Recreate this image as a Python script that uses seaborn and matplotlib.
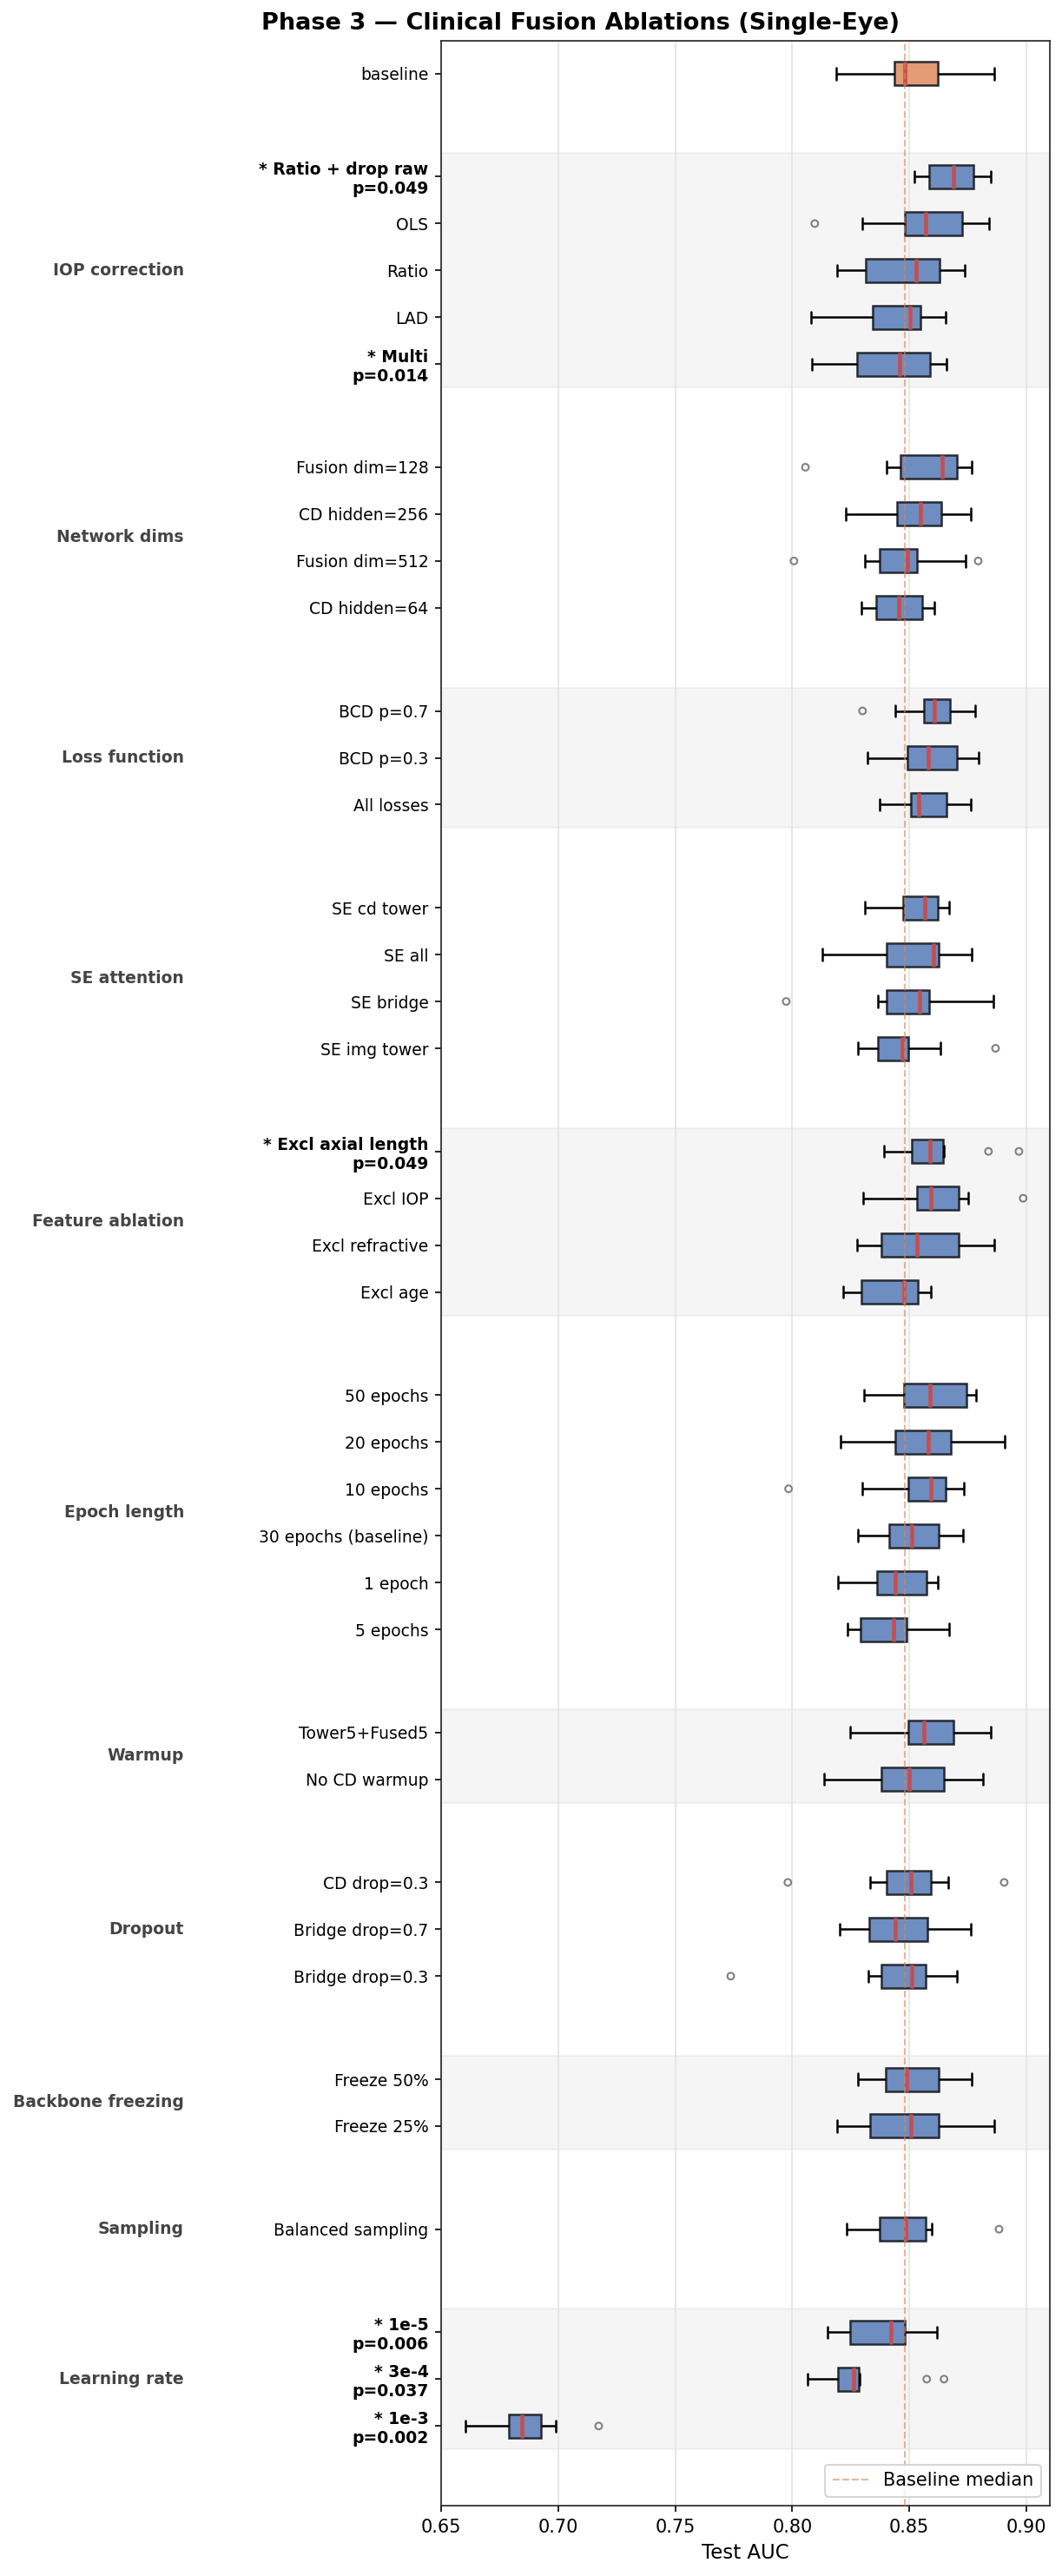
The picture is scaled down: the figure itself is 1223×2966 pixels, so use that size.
import numpy as np
import pandas as pd
import matplotlib
matplotlib.use("Agg")
import matplotlib.pyplot as plt
import matplotlib.transforms as mtransforms
import seaborn as sns

# --- data (test AUC box summaries) ---
group_names = ["", "IOP correction", "Network dims", "Loss function", "SE attention",
               "Feature ablation", "Epoch length", "Warmup", "Dropout",
               "Backbone freezing", "Sampling", "Learning rate"]
group_sizes = [1, 5, 4, 3, 4, 4, 6, 2, 3, 2, 1, 3]

labels = ["baseline",
          "* Ratio + drop raw\np=0.049", "OLS", "Ratio", "LAD", "* Multi\np=0.014",
          "Fusion dim=128", "CD hidden=256", "Fusion dim=512", "CD hidden=64",
          "BCD p=0.7", "BCD p=0.3", "All losses",
          "SE cd tower", "SE all", "SE bridge", "SE img tower",
          "* Excl axial length\np=0.049", "Excl IOP", "Excl refractive", "Excl age",
          "50 epochs", "20 epochs", "10 epochs", "30 epochs (baseline)", "1 epoch", "5 epochs",
          "Tower5+Fused5", "No CD warmup",
          "CD drop=0.3", "Bridge drop=0.7", "Bridge drop=0.3",
          "Freeze 50%", "Freeze 25%",
          "Balanced sampling",
          "* 1e-5\np=0.006", "* 3e-4\np=0.037", "* 1e-3\np=0.002"]

whislo = [0.8188,
          0.8522, 0.8299, 0.8192, 0.8080, 0.8084,
          0.8403, 0.8229, 0.8310, 0.8294,
          0.8440, 0.8321, 0.8373,
          0.8310, 0.8129, 0.8366, 0.8281,
          0.8392, 0.8302, 0.8277, 0.8218,
          0.8305, 0.8206, 0.8299, 0.8281, 0.8195, 0.8236,
          0.8247, 0.8135,
          0.8333, 0.8201, 0.8325,
          0.8281, 0.8192,
          0.8232,
          0.8151, 0.8064, 0.6605]
q1 = [0.8436,
      0.8585, 0.8481, 0.8314, 0.8344, 0.8277,
      0.8461, 0.8446, 0.8372, 0.8357,
      0.8561, 0.8491, 0.8506,
      0.8473, 0.8402, 0.8402, 0.8366,
      0.8509, 0.8532, 0.8381, 0.8294,
      0.8476, 0.8439, 0.8494, 0.8413, 0.8361, 0.8290,
      0.8494, 0.8381,
      0.8402, 0.8329, 0.8381,
      0.8398, 0.8331,
      0.8372,
      0.8247, 0.8195, 0.6790]
med = [0.8481,
       0.8689, 0.8570, 0.8529, 0.8503, 0.8459,
       0.8640, 0.8548, 0.8491, 0.8454,
       0.8607, 0.8581, 0.8540,
       0.8565, 0.8602, 0.8544, 0.8468,
       0.8587, 0.8592, 0.8533, 0.8477,
       0.8588, 0.8581, 0.8592, 0.8511, 0.8440, 0.8431,
       0.8562, 0.8498,
       0.8506, 0.8440, 0.8511,
       0.8487, 0.8506,
       0.8485,
       0.8422, 0.8263, 0.6846]
q3 = [0.8622,
      0.8774, 0.8726, 0.8629, 0.8548, 0.8588,
      0.8703, 0.8637, 0.8533, 0.8555,
      0.8674, 0.8703, 0.8659,
      0.8622, 0.8625, 0.8585, 0.8496,
      0.8642, 0.8711, 0.8711, 0.8536,
      0.8744, 0.8677, 0.8655, 0.8625, 0.8574, 0.8488,
      0.8689, 0.8648,
      0.8592, 0.8577, 0.8570,
      0.8625, 0.8625,
      0.8571,
      0.8480, 0.8284, 0.6928]
whishi = [0.8863,
          0.8848, 0.8841, 0.8737, 0.8655, 0.8659,
          0.8766, 0.8763, 0.8740, 0.8607,
          0.8781, 0.8796, 0.8763,
          0.8669, 0.8766, 0.8859, 0.8633,
          0.8646, 0.8750, 0.8863, 0.8592,
          0.8785, 0.8907, 0.8733, 0.8729, 0.8622, 0.8670,
          0.8848, 0.8815,
          0.8666, 0.8763, 0.8703,
          0.8766, 0.8863,
          0.8596,
          0.8617, 0.8288, 0.6988]
fliers = [[],
          [], [0.8096], [], [], [],
          [0.8056], [], [0.8007, 0.8794], [],
          [0.8300], [], [],
          [], [], [0.7974], [0.8868],
          [0.8838, 0.8968], [0.8986], [], [],
          [], [], [0.7984], [], [], [],
          [], [],
          [0.7981, 0.8905], [], [0.7737],
          [], [],
          [0.8883],
          [], [0.8574, 0.8648], [0.7173]]

# --- row positions: 1 per row, extra gap between groups ---
positions = []
group_pos = []
y = 0.0
for size in group_sizes:
    rows = []
    for _ in range(size):
        rows.append(y)
        y += 1
    positions += rows
    group_pos.append(rows)
    y += 1.2

box_rows = []
for i, p in enumerate(positions):
    kind = "baseline" if i == 0 else "ablation"
    for v in (whislo[i], q1[i], med[i], q3[i], whishi[i]):
        box_rows.append({"pos": p, "auc": v, "kind": kind})
box_df = pd.DataFrame(box_rows)
flier_df = pd.DataFrame([{"pos": positions[i], "auc": v}
                         for i, fl in enumerate(fliers) for v in fl])

sns.set_style("ticks")
plt.rcParams["font.family"] = ["DejaVu Sans"]
plt.rcParams["text.color"] = "black"
plt.rcParams["xtick.color"] = "black"
plt.rcParams["ytick.color"] = "black"
plt.rcParams["axes.labelcolor"] = "black"
plt.rcParams["axes.edgecolor"] = "#222222"

fig = plt.figure(figsize=(1223 / 150, 2966 / 150), dpi=150)
ax = fig.add_axes([508 / 1223, 1 - 2885 / 2966, 701 / 1223, (2885 - 47) / 2966])

# shaded bands for alternating groups
for gi, rows in enumerate(group_pos):
    if gi % 2 == 1:
        ax.axhspan(rows[0] - 0.5, rows[-1] + 0.5, color="grey", alpha=0.08, zorder=0)

ax.grid(axis="x", color="#e3e3e3", lw=0.8)
ax.grid(axis="y", visible=False)
ax.set_axisbelow(True)

sns.boxplot(data=box_df, x="auc", y="pos", hue="kind", orient="h",
            native_scale=True, dodge=False, width=0.5, whis=np.inf,
            palette={"baseline": "#E39C75", "ablation": "#6E8DC0"},
            saturation=1, linecolor="#262a33", linewidth=1.2, legend=False,
            medianprops={"color": "#C44E52", "linewidth": 2.2},
            whiskerprops={"color": "black", "linewidth": 1.2},
            capprops={"color": "black", "linewidth": 1.2},
            ax=ax)

sns.scatterplot(data=flier_df, x="auc", y="pos", marker="o", s=14,
                facecolor="none", edgecolor="#808080", linewidth=1.0,
                zorder=4, legend=False, ax=ax)

ax.axvline(med[0], color="#DD8452", ls="--", lw=1.0, alpha=0.6, zorder=3,
           label="Baseline median")

ax.set_yticks(positions)
ax.set_yticklabels(labels, fontsize=9)
for lab in ax.get_yticklabels():
    if lab.get_text().startswith("*"):
        lab.set_fontweight("bold")

trans = mtransforms.blended_transform_factory(ax.transAxes, ax.transData)
for name, rows in zip(group_names, group_pos):
    if name:
        ax.text(-0.4223, np.mean(rows), name, transform=trans, ha="right",
                va="center", fontsize=9, fontweight="bold", color="#444444")

ax.set_xticks(np.arange(0.65, 0.901, 0.05))
ax.set_xticklabels([f"{t:.2f}" for t in np.arange(0.65, 0.901, 0.05)], fontsize=10)
ax.set_xlim(0.65, 0.91)
ax.set_ylim(positions[-1] + 1.7, -0.7)
ax.set_xlabel("Test AUC", fontsize=11)
ax.set_ylabel("")
ax.legend(loc="lower right", fontsize=10)

fig.text(669 / 1223, 1 - 34 / 2966, "Phase 3 — Clinical Fusion Ablations (Single-Eye)",
         ha="center", va="baseline", fontsize=13, fontweight="bold")

fig.savefig("out.png", dpi=150)
